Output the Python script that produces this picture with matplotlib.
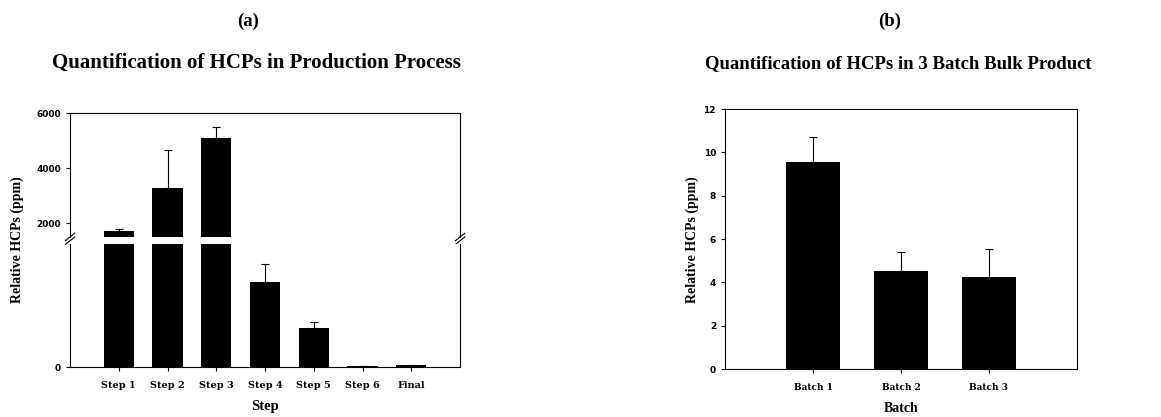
import numpy as np
import matplotlib
matplotlib.use("Agg")
import matplotlib.pyplot as plt

plt.rcParams["font.family"] = ["Liberation Serif", "DejaVu Serif"]
plt.rcParams["font.weight"] = "bold"

# (a) production process
steps = ["Step 1", "Step 2", "Step 3", "Step 4", "Step 5", "Step 6", "Final"]
step_hcp = [1710, 3260, 5080, 970, 440, 12, 25]
step_err = [80, 1380, 420, 205, 68, 0, 0]

# (b) bulk product batches
batches = ["Batch 1", "Batch 2", "Batch 3"]
batch_hcp = [9.55, 4.54, 4.26]
batch_err = [1.17, 0.87, 1.28]

tick_font = dict(family="DejaVu Serif", weight="bold", size=7)
ytick_font = dict(family="DejaVu Sans", weight="bold", size=6.5)

fig = plt.figure(figsize=(11.61, 4.17), dpi=100)

ax_top = fig.add_axes([0.0603, 0.4317, 0.336, 0.2973])
ax_bot = fig.add_axes([0.0603, 0.1199, 0.336, 0.2950])

x = np.arange(len(steps))
for ax in (ax_top, ax_bot):
    ax.bar(x, step_hcp, width=0.62, color="black")
    ax.errorbar(x, step_hcp, yerr=[np.zeros(len(step_err)), step_err], fmt="none",
                ecolor="black", elinewidth=0.8, capsize=3, capthick=0.8)
    ax.set_xlim(-1, 7)
    ax.tick_params(axis="both", length=3, width=0.8)
    for s in ax.spines.values():
        s.set_linewidth(0.8)

ax_top.set_ylim(1500, 6000)
ax_top.set_yticks([2000, 4000, 6000])
ax_top.set_yticklabels(["2000", "4000", "6000"], fontdict=ytick_font)
ax_top.spines["bottom"].set_visible(False)
ax_top.tick_params(axis="x", bottom=False, labelbottom=False)

ax_bot.set_ylim(0, 1400)
ax_bot.set_yticks([0])
ax_bot.set_yticklabels(["0"], fontdict=ytick_font)
ax_bot.spines["top"].set_visible(False)
ax_bot.set_xticks(x)
ax_bot.set_xticklabels(steps, fontdict=tick_font)
ax_bot.tick_params(axis="x", pad=7)
ax_bot.set_xlabel("Step", fontsize=10.5, fontweight="bold", labelpad=7)

# break marks
d = 0.012
for xx in (0, 1):
    kw = dict(transform=ax_top.transAxes, color="black", clip_on=False, lw=0.8)
    ax_top.plot([xx - d, xx + d], [-0.03, 0.03], **kw)
    ax_top.plot([xx - d, xx + d], [-0.06, 0.00], **kw)

fig.text(0.0146, 0.4245, "Relative HCPs (ppm)", rotation=90, fontsize=10,
         fontweight="bold", ha="center", va="center")
fig.text(0.2136, 0.95, "(a)", fontsize=13.5, fontweight="bold", ha="center", va="center")
fig.text(0.221, 0.848, "Quantification of HCPs in Production Process", fontsize=15,
         fontweight="bold", ha="center", va="center")

# panel b
ax2 = fig.add_axes([0.6245, 0.1151, 0.3031, 0.6235])
xb = np.arange(len(batches))
ax2.bar(xb, batch_hcp, width=0.61, color="black")
ax2.errorbar(xb, batch_hcp, yerr=[np.zeros(len(batch_err)), batch_err], fmt="none",
             ecolor="black", elinewidth=0.8, capsize=3, capthick=0.8)
ax2.set_xlim(-1, 3)
ax2.set_ylim(0, 12)
yt = list(range(0, 13, 2))
ax2.set_yticks(yt)
ax2.set_yticklabels([str(v) for v in yt], fontdict=ytick_font)
ax2.set_xticks(xb)
ax2.set_xticklabels(batches, fontdict=dict(tick_font, size=6.5))
ax2.tick_params(axis="both", length=3, width=0.8)
ax2.tick_params(axis="x", pad=7)
ax2.set_xlabel("Batch", fontsize=10, fontweight="bold", labelpad=7)
for s in ax2.spines.values():
    s.set_linewidth(0.8)
fig.text(0.596, 0.4245, "Relative HCPs (ppm)", rotation=90, fontsize=10,
         fontweight="bold", ha="center", va="center")
fig.text(0.7666, 0.95, "(b)", fontsize=13.5, fontweight="bold", ha="center", va="center")
fig.text(0.7735, 0.848, "Quantification of HCPs in 3 Batch Bulk Product", fontsize=13.5,
         fontweight="bold", ha="center", va="center")

fig.savefig("out.png", dpi=100)
